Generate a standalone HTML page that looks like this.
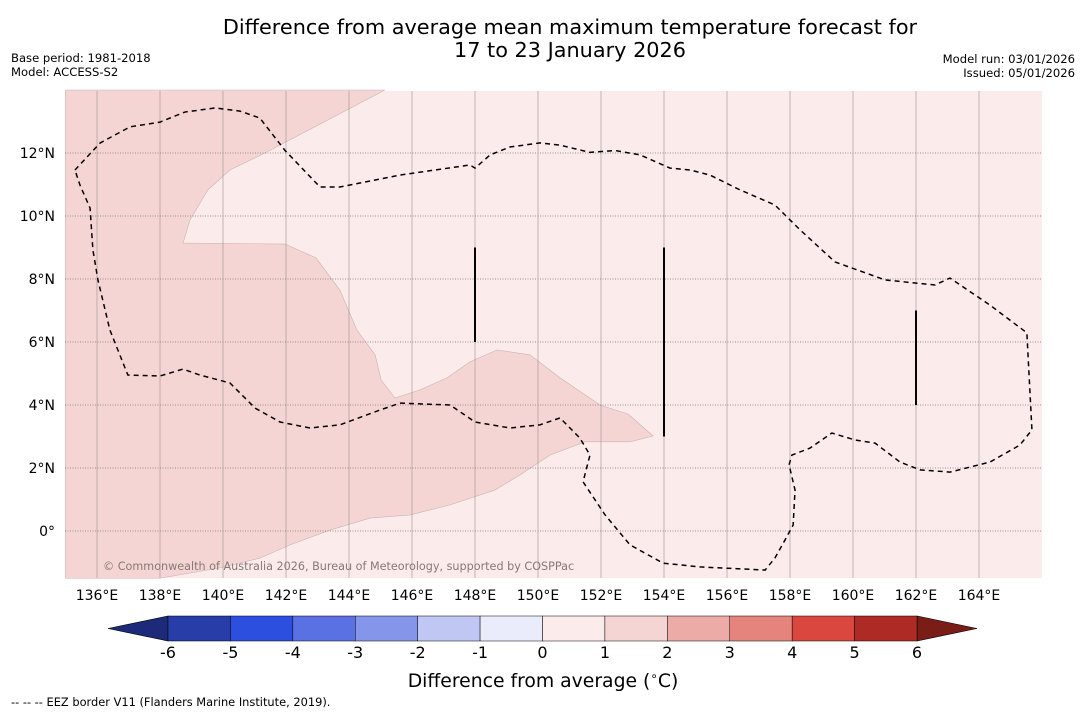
<!DOCTYPE html>
<html><head><meta charset="utf-8">
<style>
body{margin:0;background:#fff;width:1085px;height:713px;overflow:hidden;font-family:"DejaVu Sans","Liberation Sans",sans-serif;}
</style></head>
<body>
<svg id="chart" width="1085" height="713" xmlns="http://www.w3.org/2000/svg" font-family="DejaVu Sans, Liberation Sans, sans-serif">
<text x="570" y="34" font-size="20.8" text-anchor="middle">Difference from average mean maximum temperature forecast for</text>
<text x="570" y="57" font-size="20.8" text-anchor="middle">17 to 23 January 2026</text>
<text x="11" y="62" font-size="11.6">Base period: 1981-2018</text>
<text x="11" y="76" font-size="11.6">Model: ACCESS-S2</text>
<text x="1075" y="63" font-size="11.6" text-anchor="end">Model run: 03/01/2026</text>
<text x="1075" y="77" font-size="11.6" text-anchor="end">Issued: 05/01/2026</text>
<g id="map"></g>
<g id="cbar"></g>
<text x="543" y="687" font-size="18.8" text-anchor="middle">Difference from average (<tspan font-size="12" dy="-7">∘</tspan><tspan dy="7">C)</tspan></text>
<text x="11" y="706" font-size="11.4">--  --  -- EEZ border V11 (Flanders Marine Institute, 2019).</text>
</svg>
<script>
const NS="http://www.w3.org/2000/svg";
const lonTicks=[136,138,140,142,144,146,148,150,152,154,156,158,160,162,164];
const latTicks=[0,2,4,6,8,10,12];
const darkLon=[145.14,141.33,140.22,139.52,138.95,138.73,141.97,142.95,143.71,144.25,144.83,145.02,145.46,146.25,147.11,147.84,148.70,149.75,150.70,151.97,152.86,153.65,152.92,151.49,150.38,149.43,148.63,147.21,145.94,144.67,143.40,142.13,141.17,139.90,138.0,135,135];
const darkLat=[14,12.0,11.46,10.83,9.87,9.14,9.11,8.67,7.65,6.38,5.59,4.79,4.22,4.48,4.86,5.37,5.75,5.59,4.86,4.0,3.71,3.02,2.83,2.83,2.41,1.78,1.30,0.83,0.51,0.41,0.03,-0.44,-0.86,-1.17,-1.5,-1.5,14];
const eezLon=[135.30,136.10,137.05,138.00,138.79,139.75,140.54,141.17,141.97,143.08,143.71,145.62,147.84,148.00,148.48,149.11,150.06,150.70,151.65,152.44,153.24,154.19,154.83,155.46,156.41,157.52,158.32,159.43,161.02,162.60,163.08,164.35,165.52,165.68,165.30,164.35,163.08,162.13,161.49,160.70,160.06,159.33,158.63,158.06,157.97,158.16,158.10,157.84,157.52,157.21,155.14,153.97,152.92,152.13,151.43,151.65,151.33,150.70,150.06,149.11,148.00,147.21,145.62,144.98,143.71,142.76,141.81,141.02,140.22,139.27,138.73,138.00,136.98,136.41,136.03,135.87,135.78,135.46,135.30];
const eezLat=[11.46,12.32,12.83,12.98,13.30,13.43,13.33,13.11,12.08,10.92,10.92,11.30,11.62,11.52,11.94,12.19,12.32,12.25,12.02,12.08,11.94,11.52,11.46,11.30,10.83,10.35,9.56,8.54,7.97,7.81,8.03,7.17,6.29,3.21,2.73,2.19,1.87,1.94,2.19,2.79,2.89,3.11,2.63,2.41,2.10,1.30,0.19,-0.29,-0.86,-1.24,-1.14,-1.02,-0.44,0.51,1.56,2.41,2.95,3.59,3.37,3.27,3.46,4.00,4.06,3.84,3.37,3.27,3.46,3.90,4.70,4.95,5.14,4.92,4.95,6.38,7.97,8.92,10.25,10.98,11.46];
const segLon=[148,154,162];
const segLat0=[6,3,4];
const segLat1=[9,9,7];
const cbVals=[-6,-5,-4,-3,-2,-1,0,1,2,3,4,5,6];
const cbColors=["#283da8","#2d4fe0","#5a71e3","#8595ea","#c0c7f3","#eaecfb","#fbebea","#f5d5d4","#ecaba6","#e5847c","#d9473f","#ad2b24"];
const X=lon=>97+(lon-136)*31.5;
const Y=lat=>531-lat*31.5;
const map=document.getElementById('map');
function mk(t,a,p){const e=document.createElementNS(NS,t);for(const k in a)e.setAttribute(k,a[k]);(p||map).appendChild(e);return e;}
let r=mk('rect',{x:65,y:91,width:977,height:487,fill:'#fbebea'});


let pts=darkLon.map((v,i)=>X(v)+','+Y(darkLat[i])).join(' ');
let dp=mk('polygon',{points:pts,fill:'#f5d5d4',stroke:'#c9b3b2','stroke-width':0.6});


lonTicks.forEach(l=>{let g=mk('line',{x1:X(l),x2:X(l),y1:91,y2:578,stroke:'#8a8080','stroke-width':0.5});


let t=mk('text',{x:X(l),y:600,'font-size':14,'text-anchor':'middle'});t.textContent=l+'°E';

});
latTicks.forEach(l=>{let g=mk('line',{x1:65,x2:1042,y1:Y(l),y2:Y(l),stroke:'#777','stroke-width':0.7,'stroke-dasharray':'1,1.5'});


let t=mk('text',{x:55,y:Y(l)+5,'font-size':14,'text-anchor':'end'});t.textContent=l===0?'0°':l+'°N';

});
let ep=mk('polyline',{points:eezLon.map((v,i)=>X(v)+','+Y(eezLat[i])).join(' '),fill:'none',stroke:'#000','stroke-width':1.5,'stroke-dasharray':'5,4'});


segLon.forEach((l,i)=>{let s=mk('line',{x1:X(l),x2:X(l),y1:Y(segLat0[i]),y2:Y(segLat1[i]),stroke:'#000','stroke-width':2});

});
let wm=mk('text',{x:103,y:570,'font-size':11.2,fill:'#857a78'});wm.textContent='© Commonwealth of Australia 2026, Bureau of Meteorology, supported by COSPPac';


const cb=document.getElementById('cbar');
const cx0=168,cx1=917,cy0=616,cy1=641;
const CX=v=>cx0+(v-cbVals[0])/(cbVals[cbVals.length-1]-cbVals[0])*(cx1-cx0);
let lt=mk('polygon',{points:`108,628.5 ${cx0},${cy0} ${cx0},${cy1}`,fill:'#1c2a79',stroke:'#000','stroke-width':0.6},cb);


let rt=mk('polygon',{points:`977,628.5 ${cx1},${cy0} ${cx1},${cy1}`,fill:'#7a1d17',stroke:'#000','stroke-width':0.6},cb);


cbColors.forEach((c,i)=>{let s=mk('rect',{x:CX(cbVals[i]),y:cy0,width:CX(cbVals[i+1])-CX(cbVals[i]),height:cy1-cy0,fill:c,stroke:'#000','stroke-width':0.5},cb);

});
cbVals.forEach(v=>{let t=mk('text',{x:CX(v),y:658,'font-size':16,'text-anchor':'middle'},cb);t.textContent=v;

});
</script>
</body></html>
